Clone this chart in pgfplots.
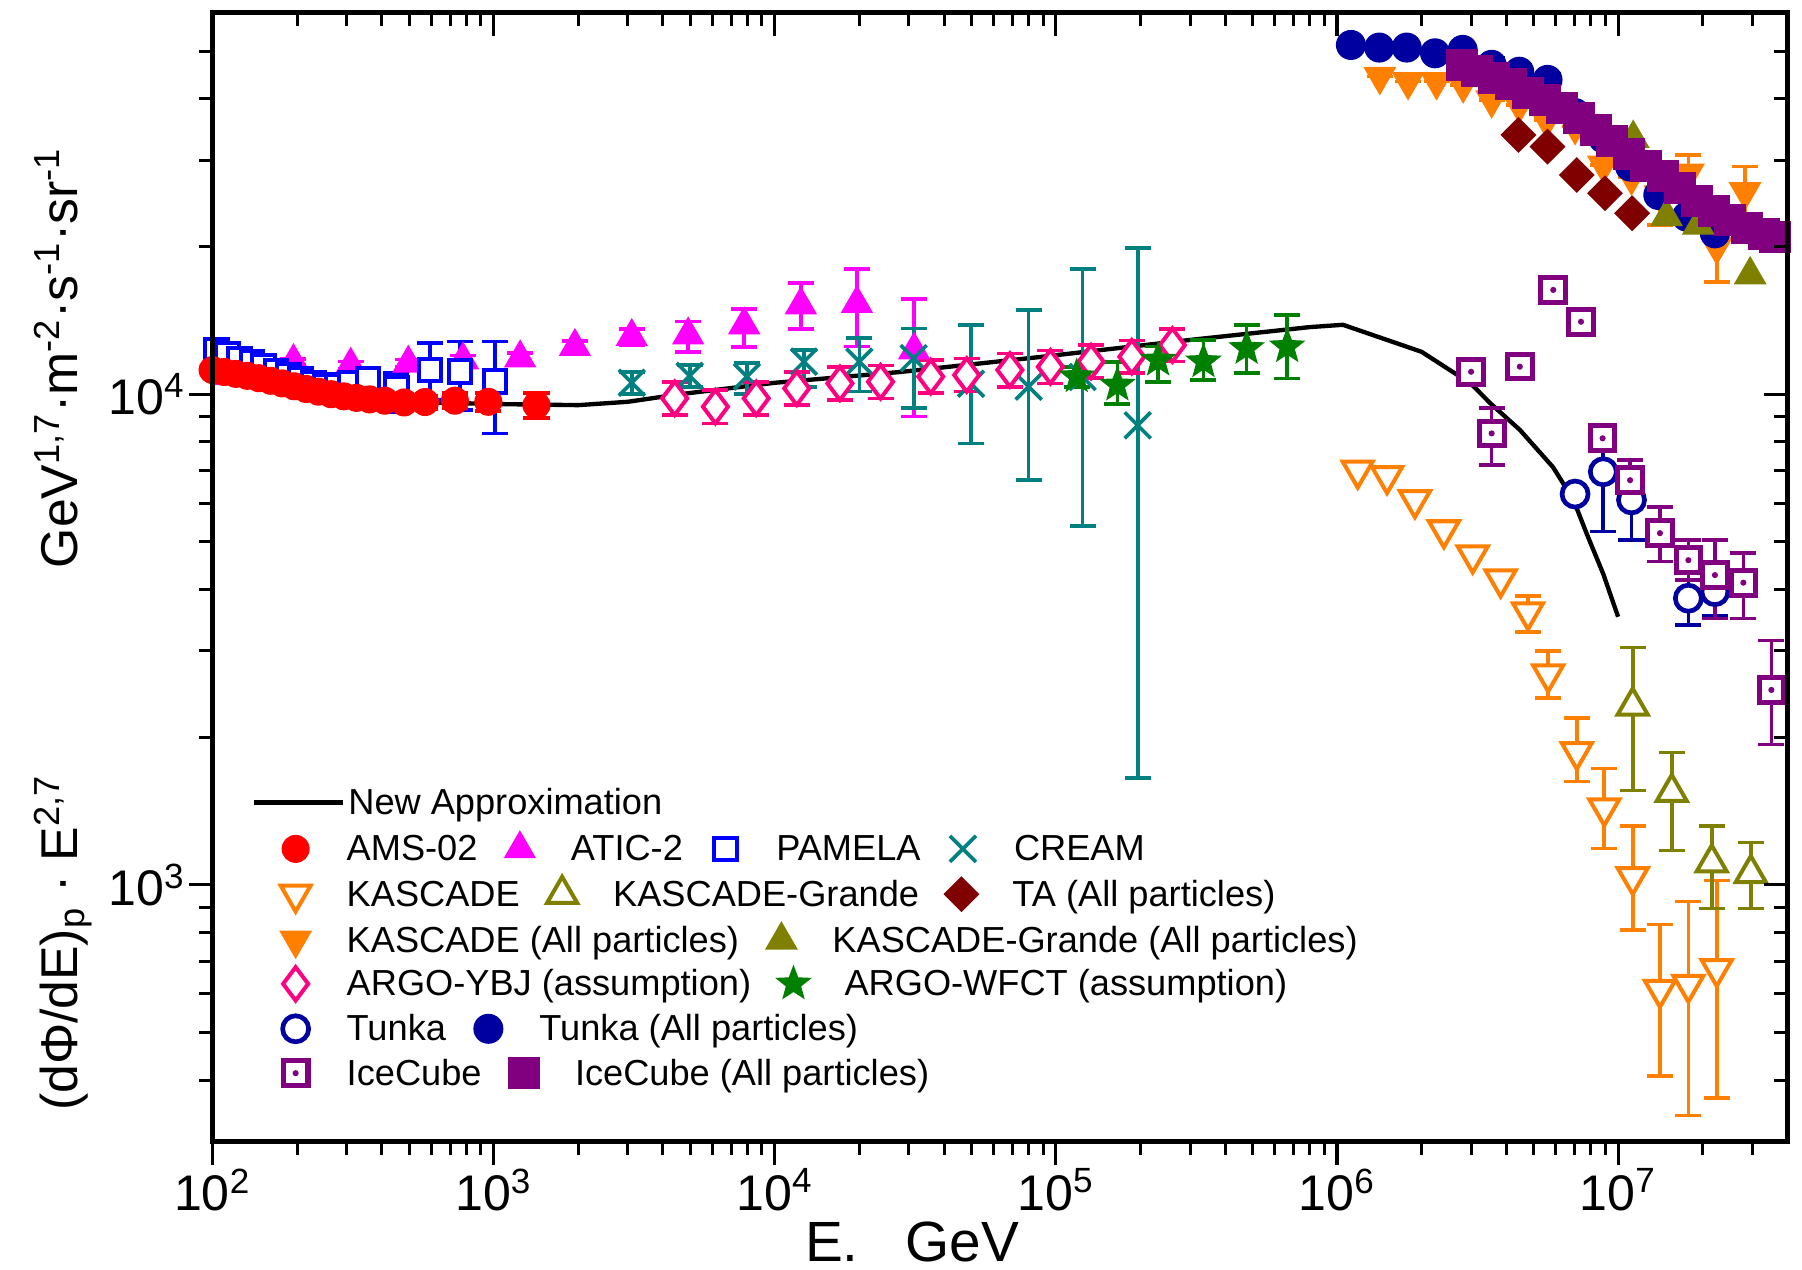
\documentclass[border=0pt]{standalone}
\usepackage{fontspec}
\setmainfont{Liberation Sans}
\usepackage{pgfplots}
\pgfplotsset{compat=1.18}

\definecolor{cAMS}{RGB}{255,0,0}
\definecolor{cATIC}{RGB}{255,0,255}
\definecolor{cPAM}{RGB}{0,0,255}
\definecolor{cCREAM}{RGB}{0,128,128}
\definecolor{cKAS}{RGB}{255,128,0}
\definecolor{cKG}{RGB}{128,128,0}
\definecolor{cTA}{RGB}{128,0,0}
\definecolor{cYBJ}{RGB}{255,0,128}
\definecolor{cWFCT}{RGB}{0,128,0}
\definecolor{cTunka}{RGB}{0,0,160}
\definecolor{cIce}{RGB}{128,0,128}

\pgfdeclareplotmark{sqdot}{%
  \pgfpathrectangle{\pgfqpoint{-\pgfplotmarksize}{-\pgfplotmarksize}}{\pgfqpoint{2\pgfplotmarksize}{2\pgfplotmarksize}}%
  \pgfusepathqfillstroke
  \begin{pgfscope}%
  \pgfsetfillcolor{cIce}%
  \pgfpathcircle{\pgfpointorigin}{0.25\pgfplotmarksize}%
  \pgfusepathqfill
  \end{pgfscope}%
}
\pgfdeclareplotmark{fstar}{%
  \pgfpathmoveto{\pgfpointpolar{90}{\pgfplotmarksize}}%
  \pgfpathlineto{\pgfpointpolar{126}{0.42\pgfplotmarksize}}%
  \pgfpathlineto{\pgfpointpolar{162}{\pgfplotmarksize}}%
  \pgfpathlineto{\pgfpointpolar{198}{0.42\pgfplotmarksize}}%
  \pgfpathlineto{\pgfpointpolar{234}{\pgfplotmarksize}}%
  \pgfpathlineto{\pgfpointpolar{270}{0.42\pgfplotmarksize}}%
  \pgfpathlineto{\pgfpointpolar{306}{\pgfplotmarksize}}%
  \pgfpathlineto{\pgfpointpolar{342}{0.42\pgfplotmarksize}}%
  \pgfpathlineto{\pgfpointpolar{18}{\pgfplotmarksize}}%
  \pgfpathlineto{\pgfpointpolar{54}{0.42\pgfplotmarksize}}%
  \pgfpathclose
  \pgfusepathqfillstroke
}

\pgfplotsset{
 sAMS/.style={only marks, color=cAMS, mark=*, mark size=4pt},
 sATIC/.style={only marks, color=cATIC, mark=triangle*, mark size=5.2pt},
 sPAM/.style={only marks, color=cPAM, mark=square*, mark size=3.4pt, mark options={line width=1.2pt, fill=white}},
 sCREAM/.style={only marks, color=cCREAM, mark=x, mark size=5.5pt, mark options={line width=1.1pt}},
 sKAS/.style={only marks, color=cKAS, mark=triangle*, mark size=5.2pt, mark options={rotate=180, line width=1.2pt, fill=white}},
 sKG/.style={only marks, color=cKG, mark=triangle*, mark size=5.2pt, mark options={line width=1.2pt, fill=white}},
 sTA/.style={only marks, color=cTA, mark=square*, mark size=3.6pt, mark options={rotate=45}},
 sKASA/.style={only marks, color=cKAS, mark=triangle*, mark size=5.3pt, mark options={rotate=180}},
 sKGA/.style={only marks, color=cKG, mark=triangle*, mark size=5.3pt},
 sYBJ/.style={only marks, color=cYBJ, mark=diamond*, mark size=5pt, mark options={line width=1.2pt, fill=white}},
 sWFCT/.style={only marks, color=cWFCT, mark=fstar, mark size=5.2pt, mark options={line width=0.4pt}},
 sTun/.style={only marks, color=cTunka, mark=*, mark size=3.9pt, mark options={line width=1.4pt, fill=white}},
 sTunA/.style={only marks, color=cTunka, mark=*, mark size=4.3pt},
 sIce/.style={only marks, color=cIce, mark=sqdot, mark size=3.7pt, mark options={line width=1.5pt, fill=white}},
 sIceA/.style={only marks, color=cIce, mark=square*, mark size=4.6pt},
 eb/.style={error bars/y dir=both, error bars/y explicit,
   error bars/error bar style={line width=1.1pt},
   error bars/error mark options={rotate=90, mark size=3.9pt, line width=1.1pt}},
 legaxis/.style={scale only axis, width=471.9pt, height=338.4pt, hide axis,
   xmin=0, xmax=1, ymin=0, ymax=1, legend columns=-1, legend cell align=left,
   legend style={draw=none, fill=none, inner sep=0pt, outer sep=0pt, anchor=west,
     font=\fontsize{10.85}{13}\selectfont,
     /tikz/every odd column/.append style={column sep=6.8pt},
     /tikz/every even column/.append style={column sep=4.2pt, nodes={inner sep=0pt, text height=0.716em, text depth=0pt}}},
   legend image code/.code={\path[draw=none, fill=none] (0pt,-8pt) rectangle (17pt,8pt);
     \draw[mark repeat=2,mark phase=2,##1] plot coordinates {(0pt,0pt) (8.5pt,0pt) (17pt,0pt)};}},
}

\begin{document}
\begin{tikzpicture}
\begin{axis}[
  scale only axis, width=471.9pt, height=338.4pt,
  xmode=log, ymode=log, xmin=100, xmax=4e7, ymin=300, ymax=6e4,
  axis line style={line width=1.4pt},
  tick style={line width=0.9pt, black},
  major tick length=7pt, minor tick length=4pt,
  tick align=outside, xtick pos=left, ytick pos=left,
  xtick={1e2,1e3,1e4,1e5,1e6,1e7},
  xticklabels={10\textsuperscript{2},10\textsuperscript{3},10\textsuperscript{4},10\textsuperscript{5},10\textsuperscript{6},10\textsuperscript{7}},
  ytick={1e3,1e4},
  yticklabels={10\textsuperscript{3},10\textsuperscript{4}},
  minor xtick={200,300,400,500,600,700,800,900,2000,3000,4000,5000,6000,7000,8000,9000,20000,30000,40000,50000,60000,70000,80000,90000,2e5,3e5,4e5,5e5,6e5,7e5,8e5,9e5,2e6,3e6,4e6,5e6,6e6,7e6,8e6,9e6,2e7,3e7},
  minor ytick={400,500,600,700,800,900,2000,3000,4000,5000,6000,7000,8000,9000,20000,30000,40000,50000},
  ticklabel style={font=\fontsize{15}{18}\selectfont, inner sep=1pt},
]
% New Approximation
\addplot[black, line width=1.3pt] table[row sep=\\]{
x y\\ 100 11200\\ 150 10700\\ 200 10350\\ 300 9900\\ 500 9650\\ 1000 9550\\ 2000 9500\\ 3000 9650\\ 4600 10000\\ 10000 10550\\ 28000 11100\\ 87000 11900\\ 300000 12900\\ 800000 13700\\ 1050000 13850\\ 2000000 12200\\ 3000000 10500\\ 3500000 9600\\ 4480000 8450\\ 5870000 7100\\ 6930000 6100\\ 7730000 5200\\ 8860000 4300\\ 10000000 3520\\
};
% ATIC-2
\addplot[sATIC, eb] table[x=x, y=y, y error plus=ep, y error minus=em, row sep=\\]{
x y ep em\\ 116 10900 150 150\\ 194 11650 150 150\\ 310 11450 200 200\\ 497 11560 200 200\\ 778 11740 250 250\\ 1242 11850 300 300\\ 1945 12500 350 350\\ 3100 13100 500 500\\ 4920 13200 860 1000\\ 7785 13840 1060 1380\\ 12380 15200 1630 1620\\ 19600 15300 2670 2800\\ 31300 12300 3330 3300\\
};
% PAMELA
\addplot[sPAM, eb] table[x=x, y=y, y error plus=ep, y error minus=em, row sep=\\]{
x y ep em\\ 103 12300 200 200\\ 113 12050 200 200\\ 125 11800 200 200\\ 138 11600 200 200\\ 152 11400 200 200\\ 168 11150 200 200\\ 186 10900 200 200\\ 206 10700 200 200\\ 228 10500 220 220\\ 252 10400 220 220\\ 279 10400 250 250\\ 310 10500 280 280\\ 357 10700 320 320\\ 451 10280 750 1070\\ 593 11200 1500 1470\\ 759 11110 1690 1820\\ 1011 10600 2200 2280\\
};
% AMS-02
\addplot[sAMS, eb] table[x=x, y=y, y error=e, row sep=\\]{
x y e\\ 100 11200 250\\ 110 11100 250\\ 121 11000 250\\ 133 10900 250\\ 146 10780 250\\ 161 10650 250\\ 177 10520 250\\ 195 10380 250\\ 215 10250 250\\ 238 10120 250\\ 264 10000 250\\ 293 9900 250\\ 325 9830 250\\ 362 9760 250\\ 410 9700 250\\ 480 9620 250\\ 570 9640 300\\ 728 9700 350\\ 957 9650 400\\ 1420 9500 550\\
};
% CREAM
\addplot[sCREAM, eb] table[x=x, y=y, y error plus=ep, y error minus=em, row sep=\\]{
x y ep em\\ 3100 10550 550 550\\ 4980 10900 570 550\\ 7960 10860 700 860\\ 12700 11650 650 1290\\ 20000 11650 1350 1530\\ 31200 11840 1780 2480\\ 49900 10500 3340 2560\\ 80000 10360 4490 3680\\ 124500 10840 7130 5460\\ 195500 8640 11190 6990\\
};
% ARGO-YBJ
\addplot[sYBJ, eb] table[x=x, y=y, y error plus=ep, y error minus=em, row sep=\\]{
x y ep em\\ 4405 9808 790 740\\ 6150 9430 760 710\\ 8590 9808 790 740\\ 11970 10280 820 770\\ 17050 10520 840 790\\ 23780 10600 850 800\\ 35880 10860 870 810\\ 48160 10940 880 820\\ 68600 11200 900 840\\ 95600 11370 910 850\\ 133400 11650 930 870\\ 186200 11920 950 890\\ 259600 12590 1000 940\\
};
% ARGO-WFCT
\addplot[sWFCT, eb] table[x=x, y=y, y error plus=ep, y error minus=em, row sep=\\]{
x y ep em\\ 118600 10860 500 500\\ 165500 10440 1200 900\\ 231000 11740 760 1140\\ 335000 11650 1250 960\\ 477000 12400 1440 1370\\ 665000 12500 2000 1730\\
};
% KASCADE (open)
\addplot[sKAS] table[row sep=\\]{
x y\\ 1185000 7000\\ 1507000 6820\\ 1893000 6090\\ 2400000 5290\\ 3040000 4700\\ 3820000 4200\\
};
\addplot[sKAS, eb] table[x=x, y=y, y error plus=ep, y error minus=em, row sep=\\]{
x y ep em\\ 4780000 3600 280 320\\ 5640000 2690 306 286\\ 7130000 1869 319 245\\ 8930000 1435 292 249\\ 11270000 1039 281 229\\ 14090000 612 219 204\\ 17780000 627 298 288\\ 22430000 675 347 307\\
};
% KASCADE-Grande (open)
\addplot[sKG, eb] table[x=x, y=y, y error plus=ep, y error minus=em, row sep=\\]{
x y ep em\\ 11270000 2317 728 759\\ 15520000 1545 318 369\\ 21530000 1110 210 215\\ 29660000 1056 164 161\\
};
% Tunka (open)
\addplot[sTun, eb] table[x=x, y=y, y error plus=ep, y error minus=em, row sep=\\]{
x y ep em\\ 7030000 6260 150 150\\ 8860000 6950 1570 1700\\ 11160000 6090 970 1040\\ 17780000 3840 610 450\\ 22100000 3960 460 430\\
};
% IceCube (open)
\addplot[sIce] table[row sep=\\]{
x y\\ 3000000 11110\\ 4470000 11380\\ 5880000 16310\\ 7380000 14050\\
};
\addplot[sIce, eb] table[x=x, y=y, y error plus=ep, y error minus=em, row sep=\\]{
x y ep em\\ 3550000 8320 1040 1150\\ 8810000 8130 390 440\\ 11030000 6680 670 690\\ 14090000 5210 690 650\\ 17780000 4590 460 410\\ 22100000 4280 770 790\\ 27900000 4130 610 640\\ 35100000 2497 651 565\\
};
% KASCADE (All particles)
\addplot[sKASA, eb] table[x=x, y=y, y error plus=ep, y error minus=em, row sep=\\]{
x y ep em\\ 1420000 44400 0 0\\ 1790000 43350 0 0\\ 2260000 43350 0 0\\ 2810000 42700 0 0\\ 3550000 39800 0 0\\ 4450000 38850 0 0\\ 5570000 36200 0 0\\ 7030000 35100 0 0\\ 8860000 29300 0 0\\ 11160000 27700 0 0\\ 14090000 25470 1630 3370\\ 17780000 28200 2500 2730\\ 22430000 20000 3730 3060\\ 28300000 25870 3230 2690\\
};
% Tunka (All particles)
\addplot[sTunA, eb] table[x=x, y=y, y error plus=ep, y error minus=em, row sep=\\]{
x y ep em\\ 1121000 51480 0 0\\ 1414000 50850 0 0\\ 1770000 50850 0 0\\ 2233000 49500 0 0\\ 2800000 50300 0 0\\ 3550000 46900 1500 1500\\ 4450000 45400 1500 1500\\ 5610000 43700 1200 1200\\ 7030000 37400 0 0\\ 8860000 33200 0 0\\ 11030000 29100 0 0\\ 13900000 25470 0 0\\ 17530000 23000 0 0\\ 22100000 21270 0 0\\
};
% TA (All particles)
\addplot[sTA] table[row sep=\\]{
x y\\ 4420000 33750\\ 5610000 31950\\ 7130000 27970\\ 8980000 25670\\ 11220000 23370\\
};
% KASCADE-Grande (All particles)
\addplot[sKGA] table[row sep=\\]{
x y\\ 11320000 33200\\ 14870000 23000\\ 19300000 22100\\ 29500000 17500\\
};
% IceCube (All particles)
\addplot[sIceA] table[row sep=\\]{
x y\\ 2780000 46900\\ 3160000 45500\\ 3630000 44000\\ 4170000 42800\\ 4790000 41000\\ 5500000 39800\\ 6310000 38300\\ 7240000 36500\\ 8320000 34500\\ 9550000 32800\\ 10960000 30800\\ 12590000 29200\\ 14450000 27800\\ 16600000 26300\\ 19050000 24800\\ 21900000 23600\\ 25100000 22600\\ 28800000 21800\\ 33100000 21200\\ 36300000 20900\\
};
\end{axis}

% mirrored ticks on top and right (pointing inward)
\begin{axis}[
  scale only axis, width=471.9pt, height=338.4pt,
  xmode=log, ymode=log, xmin=100, xmax=4e7, ymin=300, ymax=6e4,
  axis line style={line width=1.4pt},
  tick style={line width=0.9pt, black},
  major tick length=7pt, minor tick length=4pt,
  tick align=inside, xtick pos=right, ytick pos=right,
  xtick={1e2,1e3,1e4,1e5,1e6,1e7}, xticklabels={},
  ytick={1e3,1e4}, yticklabels={},
  minor xtick={200,300,400,500,600,700,800,900,2000,3000,4000,5000,6000,7000,8000,9000,20000,30000,40000,50000,60000,70000,80000,90000,2e5,3e5,4e5,5e5,6e5,7e5,8e5,9e5,2e6,3e6,4e6,5e6,6e6,7e6,8e6,9e6,2e7,3e7},
  minor ytick={400,500,600,700,800,900,2000,3000,4000,5000,6000,7000,8000,9000,20000,30000,40000,50000},
]
\end{axis}

% legend rows
\begin{axis}[legaxis, legend style={at={(0.0250,0.2999)}, /tikz/every odd column/.append style={column sep=1pt}},
  legend image code/.code={\path[draw=none, fill=none] (0pt,-8pt) rectangle (26.4pt,8pt); \draw[#1] (0pt,0pt) -- (26.4pt,0pt);}]
\addlegendimage{black, line width=1.5pt}
\addlegendentry{New Approximation}
\end{axis}
\begin{axis}[legaxis, legend style={at={(0.03475,0.2592)}}]
\addlegendimage{sAMS}\addlegendentry{AMS-02}
\addlegendimage{sATIC}\addlegendentry{ATIC-2}
\addlegendimage{sPAM}\addlegendentry{PAMELA}
\addlegendimage{sCREAM}\addlegendentry{CREAM}
\end{axis}
\begin{axis}[legaxis, legend style={at={(0.03475,0.2191)}}]
\addlegendimage{sKAS}\addlegendentry{KASCADE}
\addlegendimage{sKG}\addlegendentry{KASCADE-Grande}
\addlegendimage{sTA}\addlegendentry{TA (All particles)}
\end{axis}
\begin{axis}[legaxis, legend style={at={(0.03475,0.1784)}}]
\addlegendimage{sKASA}\addlegendentry{KASCADE (All particles)}
\addlegendimage{sKGA}\addlegendentry{KASCADE-Grande (All particles)}
\end{axis}
\begin{axis}[legaxis, legend style={at={(0.03475,0.1397)}}]
\addlegendimage{sYBJ}\addlegendentry{ARGO-YBJ (assumption)}
\addlegendimage{sWFCT}\addlegendentry{ARGO-WFCT (assumption)}
\end{axis}
\begin{axis}[legaxis, legend style={at={(0.03475,0.0999)}}]
\addlegendimage{sTun}\addlegendentry{Tunka}
\addlegendimage{sTunA}\addlegendentry{Tunka (All particles)}
\end{axis}
\begin{axis}[legaxis, legend style={at={(0.03475,0.0606)}}]
\addlegendimage{sIce}\addlegendentry{IceCube}
\addlegendimage{sIceA}\addlegendentry{IceCube (All particles)}
\end{axis}

% axis labels
\node[rotate=90, anchor=base, font=\fontsize{15.5}{18}\selectfont] at (-40.6pt,59.6pt)
  {(dΦ/dE)\textsubscript{p} · E\textsuperscript{2,7}};
\node[rotate=90, anchor=base, font=\fontsize{15.5}{18}\selectfont] at (-40.6pt,234.9pt)
  {GeV\textsuperscript{1,7}·m\textsuperscript{-2}·s\textsuperscript{-1}·sr\textsuperscript{-1}};
\node[anchor=base, inner sep=0pt, font=\fontsize{17}{20}\selectfont] at (209.6pt,-36.0pt) {E.\hspace{14pt}GeV};

\pgfresetboundingbox
\path[use as bounding box] (-63.7pt,-38.2pt) rectangle (476.3pt,342.1pt);
\end{tikzpicture}
\end{document}
